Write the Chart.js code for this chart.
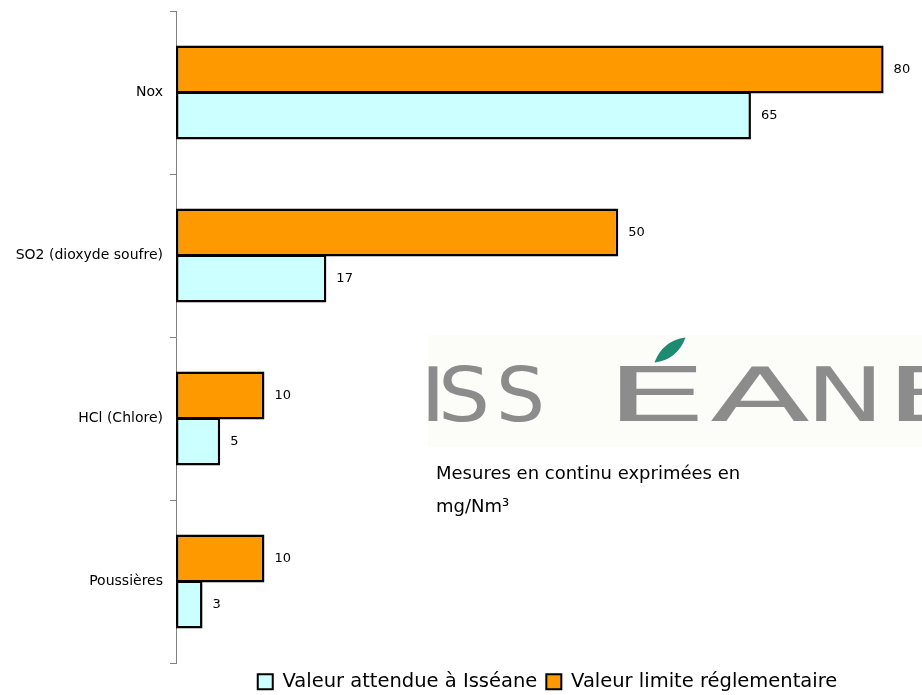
<!DOCTYPE html>
<html>
<head>
<meta charset="utf-8">
<script src="https://cdn.jsdelivr.net/npm/chart.js@4"></script>
<style>
  html, body { margin: 0; padding: 0; background: #fff; }
  #wrap { width: 922px; height: 695px; position: relative; }
</style>
</head>
<body>
<div id="wrap"><canvas id="chart" width="922" height="695"></canvas></div>
<script>
const categories = ['Nox', 'SO2 (dioxyde soufre)', 'HCl (Chlore)', 'Poussières'];
const limitValues = [80, 50, 10, 10];
const expectedValues = [65, 17, 5, 3];
const seriesNames = ['Valeur limite réglementaire', 'Valeur attendue à Isséane'];
const captionLines = ['Mesures en continu exprimées en', 'mg/Nm³'];
const logoLetters = ['I', 'S', 'S', 'E', 'A', 'N', 'E'];

// value labels at the end of each bar
const valueLabels = {
    id: 'valueLabels',
    afterDatasetsDraw(chart) {
        const ctx = chart.ctx;
        ctx.save();
        ctx.font = '13px "DejaVu Sans"';
        ctx.fillStyle = '#000';
        ctx.textBaseline = 'middle';
        ctx.textAlign = 'left';
        chart.data.datasets.forEach((ds, i) => {
            chart.getDatasetMeta(i).data.forEach((bar, j) => {
                ctx.fillText(ds.data[j], bar.x + 10, bar.y);
            });
        });
        ctx.restore();
    }
};

// logo + caption
const logo = {
    id: 'logo',
    afterDraw(chart) {
        const ctx = chart.ctx;
        ctx.save();
        ctx.fillStyle = '#fcfcf8';
        ctx.fillRect(428, 335, 494, 112);
        ctx.beginPath();
        ctx.rect(428, 335, 494, 112);
        ctx.clip();

        const boxes = [[420, 446], [438, 490], [496, 545], [604, 708], [710, 810], [806, 884], [884, 980]];
        ctx.fillStyle = '#8c8c8c';
        ctx.font = '74px "DejaVu Sans"';
        ctx.textBaseline = 'alphabetic';
        logoLetters.forEach((ch, i) => {
            const w = ctx.measureText(ch).width;
            const [x0, x1] = boxes[i];
            ctx.save();
            ctx.translate(x0, 421);
            ctx.scale((x1 - x0) / w, 1);
            ctx.fillText(ch, 0, 0);
            ctx.restore();
        });
        ctx.restore();

        // leaf as accent
        ctx.save();
        ctx.translate(670, 350);
        ctx.rotate(-0.68);
        ctx.beginPath();
        ctx.moveTo(-20, 0);
        ctx.quadraticCurveTo(0, -12, 20, 0);
        ctx.quadraticCurveTo(0, 12, -20, 0);
        ctx.fillStyle = '#1f8a72';
        ctx.fill();
        ctx.restore();

        ctx.save();
        ctx.fillStyle = '#000';
        ctx.font = '18px "DejaVu Sans"';
        ctx.textBaseline = 'alphabetic';
        ctx.fillText(captionLines[0], 436, 479);
        ctx.fillText(captionLines[1], 436, 512);
        ctx.restore();
    }
};

const ctx = document.getElementById('chart').getContext('2d');
new Chart(ctx, {
    type: 'bar',
    data: {
        labels: categories,
        datasets: [
            {
                label: seriesNames[0],
                data: limitValues,
                backgroundColor: '#ff9900',
                borderColor: '#000',
                borderWidth: 2.5,
                borderSkipped: false
            },
            {
                label: seriesNames[1],
                data: expectedValues,
                backgroundColor: '#ccffff',
                borderColor: '#000',
                borderWidth: 2.5,
                borderSkipped: false
            }
        ]
    },
    options: {
        indexAxis: 'y',
        responsive: false,
        animation: false,
        layout: { padding: { top: 11, right: 3, left: 0, bottom: 0 } },
        datasets: { bar: { categoryPercentage: 0.564, barPercentage: 1.043 } },
        scales: {
            x: { display: false, min: 0, max: 84 },
            y: {
                afterFit(scale) {
                    scale.width = 176;
                    scale.paddingTop = 0;
                    scale.paddingBottom = 0;
                },
                border: { display: true, color: '#808080', width: 1 },
                grid: { offset: true, drawOnChartArea: false, tickLength: 6, color: '#808080' },
                ticks: { color: '#000', padding: 7, font: { family: 'DejaVu Sans', size: 14 } }
            }
        },
        plugins: {
            legend: {
                position: 'bottom',
                fullSize: false,
                reverse: true,
                maxHeight: 32,
                labels: {
                    color: '#000',
                    boxWidth: 15,
                    boxHeight: 15,
                    padding: 9,
                    font: { family: 'DejaVu Sans', size: 19.5 },
                    generateLabels(chart) {
                        return chart.data.datasets.map((ds, i) => ({
                            text: ds.label,
                            fillStyle: ds.backgroundColor,
                            strokeStyle: '#000',
                            lineWidth: 2,
                            datasetIndex: i
                        }));
                    }
                }
            },
            tooltip: { enabled: false }
        }
    },
    plugins: [valueLabels, logo]
});
</script>
</body>
</html>
